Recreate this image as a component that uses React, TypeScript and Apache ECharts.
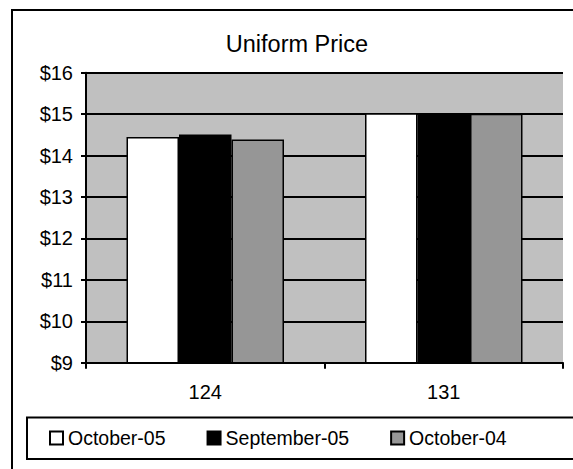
import React, { useEffect, useRef } from "react";
import * as echarts from "echarts";

const categories = ["124", "131"];
const seriesNames = ["October-05", "September-05", "October-04"];
const october05 = [14.45, 15.02];
const september05 = [14.51, 15.03];
const october04 = [14.39, 15.01];
const seriesColors = ["#FFFFFF", "#000000", "#969696"];
const yTicks = { min: 9, max: 16, interval: 1 };

const FONT = "'Liberation Sans', Arial, Helvetica, sans-serif";

export default function App() {
  const ref = useRef<HTMLDivElement>(null);
  useEffect(() => {
    if (!ref.current) return;
    const chart = echarts.init(ref.current, undefined, { renderer: "svg" });
    const values = [october05, september05, october04];
    chart.setOption({
      animation: false,
      backgroundColor: "#FFFFFF",
      textStyle: { fontFamily: FONT },
      title: {
        text: "Uniform Price",
        left: 292,
        textAlign: "center",
        top: 27,
        textStyle: { fontFamily: FONT, fontSize: 23.5, fontWeight: "normal", color: "#000" },
      },
      grid: { left: 86, top: 72.7, right: 10, bottom: 106.3, containLabel: false },
      xAxis: {
        type: "category",
        data: categories,
        axisLine: { lineStyle: { color: "#000", width: 2 } },
        axisTick: { show: true, length: 6, lineStyle: { color: "#000", width: 2 } },
        axisLabel: { margin: 19, fontSize: 20, color: "#000", fontFamily: FONT },
        splitLine: { show: false },
      },
      yAxis: {
        type: "value",
        min: yTicks.min,
        max: yTicks.max,
        interval: yTicks.interval,
        axisLine: { show: true, lineStyle: { color: "#000", width: 2 } },
        axisTick: { show: true, length: 5, lineStyle: { color: "#000", width: 2 } },
        axisLabel: {
          margin: 13,
          fontSize: 20,
          color: "#000",
          fontFamily: FONT,
          formatter: (v: number) => "$" + v,
        },
        splitLine: { show: true, lineStyle: { color: "#000", width: 2 } },
        splitArea: { show: true, areaStyle: { color: ["#C0C0C0", "#C0C0C0"] } },
      },
      legend: {
        left: 49,
        top: 428,
        padding: 0,
        itemGap: 41,
        itemWidth: 13,
        itemHeight: 13,
        icon: "rect",
        textStyle: { fontSize: 19.5, color: "#000", fontFamily: FONT },
        data: seriesNames,
      },
      series: seriesNames.map((name, i) => ({
        name,
        type: "bar",
        data: values[i],
        barWidth: 52.5,
        barGap: "0%",
        itemStyle: { color: seriesColors[i], borderColor: "#000", borderWidth: 1.5 },
      })),
      graphic: [
        {
          type: "rect",
          shape: { x: 12, y: 10, width: 580, height: 480 },
          style: { fill: "none", stroke: "#000", lineWidth: 2 },
          silent: true,
        },
        {
          type: "rect",
          shape: { x: 27, y: 417.5, width: 560, height: 41.5 },
          style: { fill: "none", stroke: "#000", lineWidth: 2 },
          silent: true,
        },
      ],
    });
    return () => chart.dispose();
  }, []);
  return (
    <div
      ref={ref}
      style={{ position: "fixed", left: 0, top: 0, width: 573, height: 469 }}
    />
  );
}
